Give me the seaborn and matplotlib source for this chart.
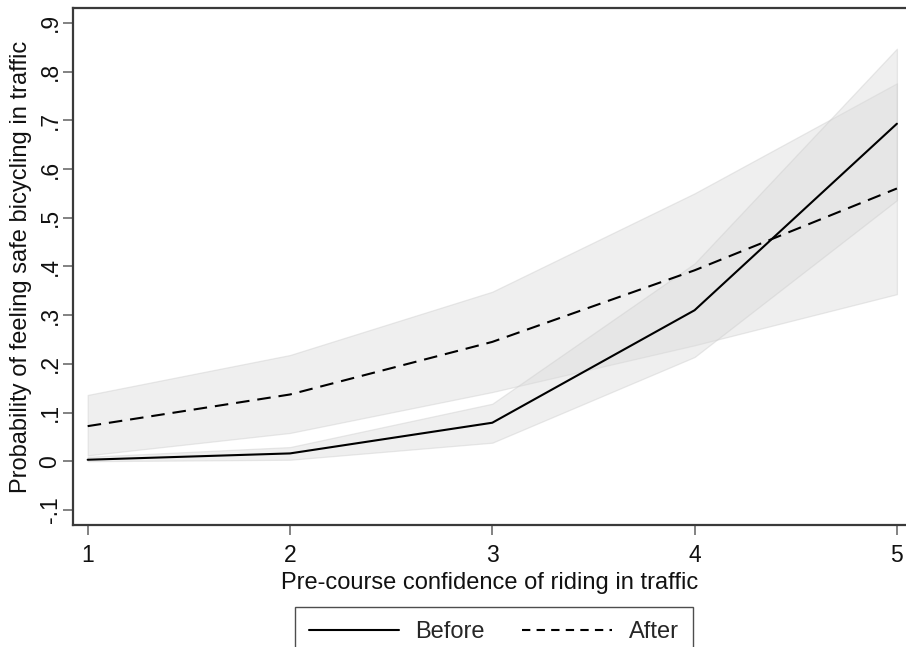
import matplotlib
matplotlib.use("Agg")
import matplotlib.pyplot as plt
import seaborn as sns
import pandas as pd
from matplotlib.lines import Line2D

# Predicted probabilities with 95% confidence bands, by pre-course confidence
confidence = [1, 2, 3, 4, 5]
before = [0.003, 0.016, 0.079, 0.310, 0.693]
before_lo = [0.000, 0.003, 0.038, 0.214, 0.536]
before_hi = [0.009, 0.029, 0.118, 0.406, 0.847]
after = [0.072, 0.137, 0.245, 0.392, 0.560]
after_lo = [0.012, 0.058, 0.142, 0.238, 0.343]
after_hi = [0.136, 0.218, 0.348, 0.550, 0.776]

series_names = ["Before", "After"]
y_ticks = [-0.1, 0, 0.1, 0.2, 0.3, 0.4, 0.5, 0.6, 0.7, 0.8, 0.9]
y_tick_labels = ["-.1", "0", ".1", ".2", ".3", ".4", ".5", ".6", ".7", ".8", ".9"]

df = pd.DataFrame({
    "confidence": confidence * 2,
    "prob": before + after,
    "period": [series_names[0]] * len(confidence) + [series_names[1]] * len(confidence),
})

sns.set_theme(style="white")
plt.rcParams["font.family"] = ["Liberation Sans", "DejaVu Sans"]

fig = plt.figure(figsize=(9.06, 6.47), dpi=100)
ax = fig.add_axes([72.7 / 906, 1 - 525 / 647, 1 - 72.7 / 906, (525 - 8.3) / 647])

band_kw = dict(color="#dadada", alpha=0.42, edgecolor="#cccccc", linewidth=0.9)
ax.fill_between(confidence, after_lo, after_hi, **band_kw)
ax.fill_between(confidence, before_lo, before_hi, **band_kw)

sns.lineplot(
    data=df, x="confidence", y="prob", style="period",
    style_order=series_names,
    dashes={"Before": "", "After": (6.5, 3.8)},
    color="black", linewidth=1.5, legend=False, ax=ax,
)

ax.set_xlim(0.926, 1 + (906 - 87.7) / 202.3)
ax.set_ylim(-0.131, 0.930)
ax.set_xticks(confidence)
ax.set_xticklabels([str(c) for c in confidence])
ax.set_yticks(y_ticks)
ax.set_yticklabels(y_tick_labels, rotation=90, va="center")

for side in ["left", "bottom", "top"]:
    ax.spines[side].set_visible(True)
    ax.spines[side].set_color("#3a3a3a")
    ax.spines[side].set_linewidth(1.6)
ax.spines["right"].set_visible(False)

ax.tick_params(axis="both", which="major", direction="out", length=7,
               width=1.1, color="#606060", labelsize=16.5, labelcolor="#111111",
               left=True, bottom=True)
ax.tick_params(axis="y", pad=1)
ax.tick_params(axis="x", pad=7)

ax.set_xlabel("Pre-course confidence of riding in traffic", fontsize=17, color="#111111")
ax.set_ylabel("Probability of feeling safe bicycling in traffic", fontsize=17, color="#111111")
ax.xaxis.set_label_coords(0.5, -0.09)
ax.yaxis.set_label_coords(-0.049, 0.5)

handles = [
    Line2D([], [], color="black", linewidth=1.5, linestyle="-"),
    Line2D([], [], color="black", linewidth=1.5, linestyle=(0, (4, 3))),
]
leg = fig.legend(handles, series_names, loc="upper center",
                 bbox_to_anchor=(0.545, 1 - 607 / 647), ncol=2,
                 fontsize=17, handlelength=3.8, columnspacing=1.6,
                 handletextpad=0.7, frameon=True, fancybox=False,
                 borderpad=0.6, borderaxespad=0)
leg.get_frame().set_edgecolor("#222222")
leg.get_frame().set_linewidth(1.0)

fig.savefig("out.png", dpi=100)
